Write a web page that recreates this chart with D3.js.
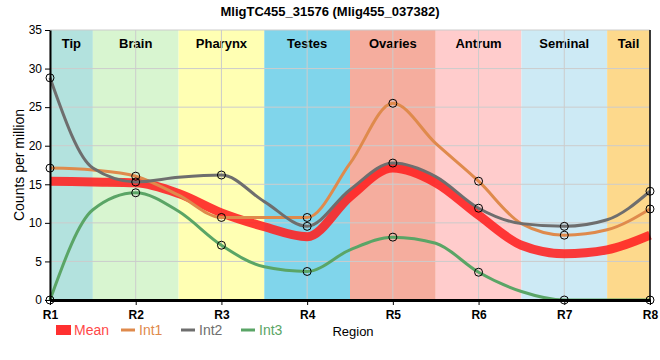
<!DOCTYPE html>
<html><head><meta charset="utf-8">
<script src="https://cdn.jsdelivr.net/npm/d3@7"></script>
<style>body{margin:0;background:#fff}text{font-family:"Liberation Sans",Arial,sans-serif}</style>
</head><body><svg id="c" width="660" height="360"></svg>
<script>
const categories = ["R1","R2","R3","R4","R5","R6","R7","R8"];
const regions = ["Tip","Brain","Pharynx","Testes","Ovaries","Antrum","Seminal","Tail"];
const regionColors = ["#b3e2de","#d8f5d0","#ffffb3","#80d5eb","#f5ad9e","#ffcccc","#cdeaf5","#fdd98c"];
// sample positions along the body (R1..R8 and the band edges between them)
const positions = [1,1.5,2,2.5,3,3.5,4,4.5,5,5.5,6,6.5,7,7.5,8];
const mean = [15.4,15.3,15.2,13.8,11.3,9.5,8.2,13.4,17.1,15.2,11.0,7.1,6.0,6.5,8.4];
const int1 = [17.1,16.85,16.05,13.6,10.7,10.7,10.7,17.7,25.5,20.3,15.4,9.9,8.4,9.1,11.8];
const int2 = [28.8,17.1,15.3,15.9,16.2,12.75,9.55,14.3,17.75,16.0,11.9,9.9,9.55,10.4,14.1];
const int3 = [0,11.7,13.9,11.5,7.1,4.3,3.7,6.5,8.15,7.35,3.6,1.1,0,0,0];
const yTicks = [0,5,10,15,20,25,30,35];

const svg = d3.select("#c");
const x = d3.scaleLinear().domain([1,8]).range([50,650]);
const y = d3.scaleLinear().domain([0,35]).range([300,30]);

// bands
regions.forEach((r,i)=>{
  const x0 = Math.max(x.range()[0], x(i+0.5)), x1 = Math.min(x.range()[1], x(i+1.5));
  svg.append("rect").attr("x",x0).attr("y",y(35)).attr("width",x1-x0).attr("height",y(0)-y(35)).attr("fill",regionColors[i]);
  svg.append("text").attr("x",(x0+x1)/2).attr("y",y(35)+18).attr("text-anchor","middle")
     .attr("font-size",13).attr("font-weight","bold").attr("fill","#000").text(r);
});
// grid
svg.append("g").selectAll("line").data(yTicks.filter(t=>t>0)).join("line")
  .attr("x1",x(1)).attr("x2",x(8)).attr("y1",d=>y(d)).attr("y2",d=>y(d)).attr("stroke","#cccccc").attr("stroke-width",1);
svg.append("g").selectAll("line").data(d3.range(1,9)).join("line")
  .attr("x1",d=>x(d)).attr("x2",d=>x(d)).attr("y1",y(0)).attr("y2",y(35)).attr("stroke","#cccccc").attr("stroke-width",1);

const series = [
  {name:"Mean", vals:mean, color:"#ff2020", width:9, opacity:0.88},
  {name:"Int1", vals:int1, color:"#df8a4c", width:3, opacity:1},
  {name:"Int2", vals:int2, color:"#6e6e6e", width:3, opacity:1},
  {name:"Int3", vals:int3, color:"#5aa566", width:3, opacity:1}
];
const line = d3.line().x(d=>x(d[0])).y(d=>y(d[1])).curve(d3.curveMonotoneX);
series.forEach(s=>{
  svg.append("path").datum(positions.map((p,i)=>[p,s.vals[i]]))
    .attr("d",line).attr("fill","none").attr("stroke",s.color).attr("stroke-width",s.width)
    .attr("stroke-opacity",s.opacity).attr("stroke-linejoin","round");
});
// markers at region points for Int series
series.slice(1).forEach(s=>{
  const pts = positions.map((p,i)=>[p,s.vals[i]]).filter(d=>Number.isInteger(d[0]));
  svg.append("g").selectAll("circle").data(pts).join("circle")
    .attr("cx",d=>x(d[0])).attr("cy",d=>y(d[1])).attr("r",4)
    .attr("fill","none").attr("stroke","#000").attr("stroke-width",1);
});

// axes
const ya = svg.append("g").attr("transform",`translate(${x(1)},0)`)
  .call(d3.axisLeft(y).tickValues(yTicks).tickSize(5).tickSizeOuter(0));
ya.select(".domain").attr("stroke","#000").attr("stroke-width",2);
ya.selectAll("text").attr("font-size",12).attr("fill","#000").attr("font-family","Liberation Sans, Arial");
const xa = svg.append("g").attr("transform",`translate(0,${y(0)})`)
  .call(d3.axisBottom(x).tickValues(d3.range(1,9)).tickFormat((d,i)=>categories[i]).tickSize(5).tickSizeOuter(0));
xa.select(".domain").attr("stroke","#000").attr("stroke-width",3);
xa.selectAll("text").attr("font-size",12).attr("font-weight","bold").attr("fill","#000").attr("dy","0.9em").attr("font-family","Liberation Sans, Arial");
svg.append("line").attr("x1",x(8)).attr("x2",x(8)).attr("y1",y(35)).attr("y2",y(0)).attr("stroke","#000").attr("stroke-width",1.5);

// title and labels
svg.append("text").attr("x",330).attr("y",16).attr("text-anchor","middle").attr("font-size",13).attr("font-weight","bold").text("MligTC455_31576 (Mlig455_037382)");
svg.append("text").attr("transform",`translate(24,${(y(0)+y(35))/2}) rotate(-90)`).attr("text-anchor","middle").attr("font-size",14).text("Counts per million");
svg.append("text").attr("x",353).attr("y",336).attr("text-anchor","middle").attr("font-size",13).text("Region");

// legend
const legX = [56,121,181,241];
series.forEach((s,i)=>{
  const g = svg.append("g").attr("transform",`translate(${legX[i]},330)`);
  if(i===0) g.append("rect").attr("x",0).attr("y",-5).attr("width",15).attr("height",10).attr("fill","#ff3030");
  else g.append("line").attr("x1",0).attr("x2",14).attr("y1",0).attr("y2",0).attr("stroke",s.color).attr("stroke-width",3);
  g.append("text").attr("x",i===0?18:18).attr("y",5).attr("font-size",14)
   .attr("fill",i===0?"#ff4848":s.color).text(s.name);
});
</script></body></html>
